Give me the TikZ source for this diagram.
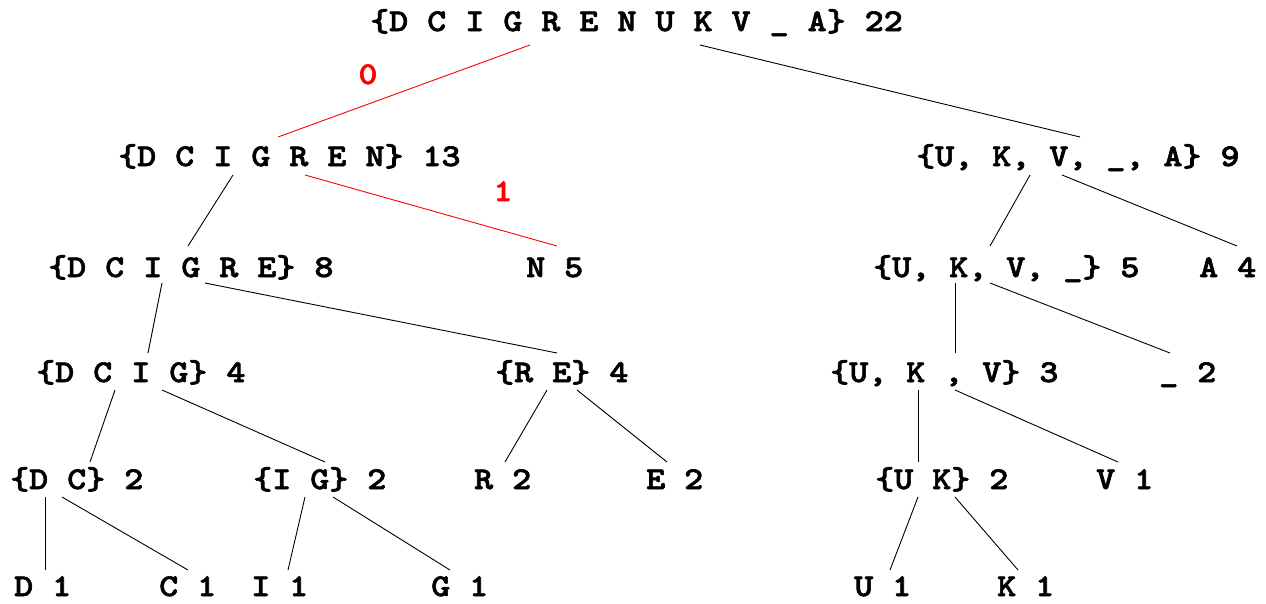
\documentclass[tikz,border=0pt]{standalone}
\usepackage{fontspec}
% slab-serif monospace face, widened to a Courier-like advance, heavy bold
\newfontfamily\slabmono{Latin Modern Mono Light}[FakeStretch=1.143,BoldFeatures={FakeBold=2}]
\begin{document}
\begin{tikzpicture}[x=1pt,y=-1pt,
  lbl/.style={anchor=base west,inner sep=0pt,font=\slabmono\bfseries\fontsize{31.7pt}{36pt}\selectfont},
  bit/.style={anchor=base,inner sep=0pt,text=red,font=\slabmono\bfseries\fontsize{31.7pt}{36pt}\selectfont},
  edge/.style={draw=black,line width=0.9pt},
  hot/.style={draw=red,line width=0.9pt}]
\useasboundingbox (0,0) rectangle (1266,603);
% tree labels (left edge, baseline)
\node[lbl] (root)   at (370,31)  {\{D C I G R E N U K V \_ A\} 22};
\node[lbl] (dcigren) at (118,166) {\{D C I G R E N\} 13};
\node[lbl] (ukvua)  at (916,166) {\{U, K, V, \_, A\} 9};
\node[lbl] (dcigre) at (48,277)  {\{D C I G R E\} 8};
\node[lbl] (n)      at (526,277) {N 5};
\node[lbl] (ukvu)   at (873,277) {\{U, K, V, \_\} 5};
\node[lbl] (a)      at (1199,277) {A 4};
\node[lbl] (dcig)   at (36,382)  {\{D C I G\} 4};
\node[lbl] (re)     at (495,382) {\{R E\} 4};
\node[lbl] (ukv)    at (830,382) {\{U, K , V\} 3};
\node[lbl] (us)     at (1159,382) {\_ 2};
\node[lbl] (dc)     at (10,489)  {\{D C\} 2};
\node[lbl] (ig)     at (253,489) {\{I G\} 2};
\node[lbl] (r)      at (474,489) {R 2};
\node[lbl] (e)      at (646,489) {E 2};
\node[lbl] (uk)     at (875,489) {\{U K\} 2};
\node[lbl] (v)      at (1096,489) {V 1};
\node[lbl] (d)      at (14,596)  {D 1};
\node[lbl] (c)      at (159,596) {C 1};
\node[lbl] (i)      at (251,596) {I 1};
\node[lbl] (g)      at (431,596) {G 1};
\node[lbl] (u)      at (854,596) {U 1};
\node[lbl] (k)      at (997,596) {K 1};
% branch labels
\node[bit] (b0) at (368,84)  {0};
\node[bit] (b1) at (503,201) {1};
% attachment points of the branches
\coordinate (root-l) at (530,45);   \coordinate (dcigren-t) at (278,137);
\coordinate (root-r) at (700,45);   \coordinate (ukvua-t) at (1080,137);
\coordinate (dcigren-l) at (233,175); \coordinate (dcigre-t) at (188,246);
\coordinate (dcigren-r) at (305,175); \coordinate (n-t) at (557,246);
\coordinate (ukvua-l) at (1030,175); \coordinate (ukvu-t) at (990,246);
\coordinate (ukvua-r) at (1062,175); \coordinate (a-t) at (1237,246);
\coordinate (dcigre-l) at (162,283); \coordinate (dcig-t) at (148,353);
\coordinate (dcigre-r) at (205,283); \coordinate (re-t) at (557,353);
\coordinate (ukvu-l) at (955,283);  \coordinate (ukv-t) at (955,353);
\coordinate (ukvu-r) at (990,283);  \coordinate (us-t) at (1170,353);
\coordinate (dcig-l) at (115,390);  \coordinate (dc-t) at (90,462);
\coordinate (dcig-r) at (162,390);  \coordinate (ig-t) at (325,462);
\coordinate (re-l) at (547,390);    \coordinate (r-t) at (505,462);
\coordinate (re-r) at (577,390);    \coordinate (e-t) at (667,462);
\coordinate (ukv-l) at (918,390);   \coordinate (uk-t) at (918,462);
\coordinate (ukv-r) at (955,390);   \coordinate (v-t) at (1118,462);
\coordinate (dc-l) at (45,497);     \coordinate (d-t) at (45,570);
\coordinate (dc-r) at (62,497);     \coordinate (c-t) at (188,570);
\coordinate (ig-l) at (305,497);    \coordinate (i-t) at (288,570);
\coordinate (ig-r) at (333,497);    \coordinate (g-t) at (450,570);
\coordinate (uk-l) at (918,497);    \coordinate (u-t) at (890,570);
\coordinate (uk-r) at (955,497);    \coordinate (k-t) at (1018,570);
% branches
\draw[hot]  (root-l) -- (dcigren-t);
\draw[edge] (root-r) -- (ukvua-t);
\draw[edge] (dcigren-l) -- (dcigre-t);
\draw[hot]  (dcigren-r) -- (n-t);
\draw[edge] (ukvua-l) -- (ukvu-t);
\draw[edge] (ukvua-r) -- (a-t);
\draw[edge] (dcigre-l) -- (dcig-t);
\draw[edge] (dcigre-r) -- (re-t);
\draw[edge] (ukvu-l) -- (ukv-t);
\draw[edge] (ukvu-r) -- (us-t);
\draw[edge] (dcig-l) -- (dc-t);
\draw[edge] (dcig-r) -- (ig-t);
\draw[edge] (re-l) -- (r-t);
\draw[edge] (re-r) -- (e-t);
\draw[edge] (ukv-l) -- (uk-t);
\draw[edge] (ukv-r) -- (v-t);
\draw[edge] (dc-l) -- (d-t);
\draw[edge] (dc-r) -- (c-t);
\draw[edge] (ig-l) -- (i-t);
\draw[edge] (ig-r) -- (g-t);
\draw[edge] (uk-l) -- (u-t);
\draw[edge] (uk-r) -- (k-t);
\end{tikzpicture}
\end{document}
